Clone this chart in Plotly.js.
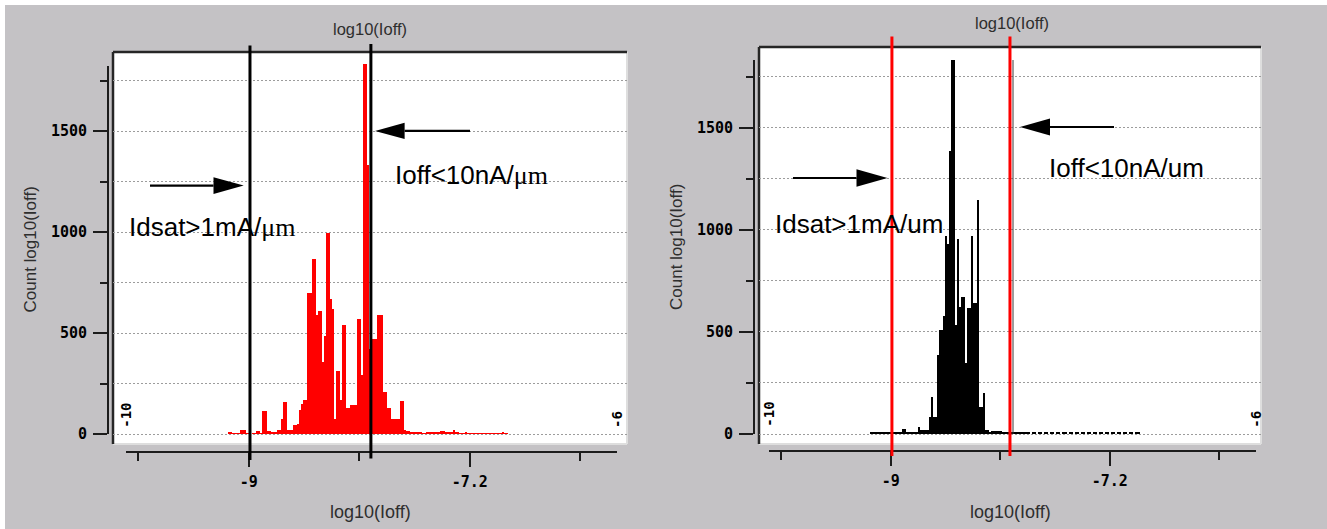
<!DOCTYPE html>
<html>
<head>
<meta charset="utf-8">
<script src="https://cdn.plot.ly/plotly-3.0.1.min.js"></script>
<style>
html,body{margin:0;padding:0;background:#c4c2c5;}
#chart{width:1327px;height:529px;}
</style>
</head>
<body>
<div id="chart"></div>
<script>
// ------------------------- DATA -------------------------
const binWidth = 1 / 60;                 // log10(Ioff) bin width
const leftBinStart = -9.1715;            // first bin edge, left histogram
const leftCounts = [
  10, 8, 3, 3, 3, 3, 20, 20, 18, 3,
  3, 2, 3, 5, 13, 13, 4, 116, 116, 16,
  14, 8, 8, 8, 20, 20, 73, 156, 156, 20,
  20, 22, 46, 46, 48, 119, 147, 169, 169, 696,
  696, 868, 868, 591, 609, 609, 355, 484, 997, 997,
  669, 620, 73, 313, 313, 169, 540, 540, 128, 128,
  144, 144, 144, 567, 567, 293, 1833, 1833, 1331, 421,
  470, 470, 470, 589, 589, 589, 210, 210, 127, 127,
  73, 73, 73, 73, 164, 164, 18, 15, 15, 12,
  10, 8, 8, 10, 8, 6, 6, 8, 10, 12,
  12, 10, 8, 8, 15, 15, 8, 8, 8, 8,
  18, 8, 8, 6, 6, 6, 8, 6, 6, 6,
  5, 6, 6, 5, 5, 6, 5, 5, 5, 6,
  5, 5, 4, 5, 8, 5, 4
];
const rightBinStart = -9.172;            // first bin edge, right histogram
const rightCounts = [
  8, 8, 8, 8, 8, 8, 8, 8, 8, 8,
  8, 8, 8, 8, 8, 8, 25, 25, 8, 8,
  8, 8, 8, 8, 35, 20, 20, 20, 20, 85,
  183, 85, 85, 387, 510, 510, 578, 970, 931, 1384,
  1830, 1830, 534, 956, 624, 673, 673, 350, 616, 616,
  972, 640, 640, 1147, 134, 134, 203, 20, 20, 8,
  16, 16, 16, 16, 16, 8, 8, 8, 8, 8,
  8, 8, 8, 8, 8, 8, 8, 8, 8, 0,
  8, 8, 0, 8, 8, 0, 8, 8, 0, 8, 8, 0, 8, 8, 0, 8, 8, 0,
  8, 8, 0, 8, 8, 0, 8, 8, 0, 8, 8, 0, 8, 8, 0, 8, 8, 0,
  8, 8, 0, 8, 8, 0, 8, 8, 0, 8, 8, 0, 8, 8, 0, 8, 8, 0
];
const xRange = [-10, -6];
const rangeEndLabels = ['-10', '-6'];
const xMajorTicks = [-9, -7.2];
const xMajorLabels = ['-9', '-7.2'];
const xMinorTicks = [-9.9, -8.1, -6.3];
const yMajorTicks = [0, 500, 1000, 1500];
const yMinorTicks = [250, 750, 1250, 1750];
const leftThresholds = [-8.99, -8.005];
const rightThresholds = [-8.99, -8.02];
const rightUnderLine = [-7.995];
const axisTitle = 'log10(Ioff)';
const yTitle = 'Count log10(Ioff)';
const MU = '<span style="font-family:Liberation Serif">μm</span>';
const leftTexts = ['Idsat&gt;1mA/' + MU, 'Ioff&lt;10nA/' + MU];
const rightTexts = ['Idsat&gt;1mA/um', 'Ioff&lt;10nA/um'];

// ------------------------- GEOMETRY (pixels) -------------------------
const W = 1327, H = 529;
const fx = x => x / W, fy = y => 1 - y / H;

const panels = [
  { s: '', d: '3', box: [113, 52, 627, 444], ax0: 126, ax1: 617, zeroY: 434, pxc: 0.202,
    yLineX: 108, yLineTop: 66, xLineY: 452,
    counts: leftCounts, start: leftBinStart, color: '#ff0000',
    thr: leftThresholds, thrColor: '#000000', thrTop: [45.5, 44], thrBot: [460, 458.5],
    texts: leftTexts, textPos: [[127, 227], [393, 175.5]],
    arrows: [[150, 243.7, 213.5, 185.6, 8.4], [470, 375, 404.6, 130.9, 8.1]],
    topTitle: [370.5, 28.7], botTitle: [370.5, 511.5], yTitlePos: [30, 249.5],
    endLabelY: [415.8, 420] },
  { s: '2', d: '4', box: [759, 47, 1261, 444], ax0: 769, ax1: 1255.8, zeroY: 434, pxc: 0.2042,
    yLineX: 754, yLineTop: 60, xLineY: 451,
    counts: rightCounts, start: rightBinStart, color: '#000000',
    thr: rightThresholds, thrColor: '#ff0000', thrTop: [36.4, 36.4], thrBot: [456, 456],
    texts: rightTexts, textPos: [[773, 224.4], [1047, 168]],
    arrows: [[793, 887.5, 856.5, 178, 8.7], [1114, 1020, 1050, 127, 8.5]],
    topTitle: [1011.5, 22.9], botTitle: [1010.5, 511.5], yTitlePos: [676, 247],
    endLabelY: [414.7, 419] }
];

const data = [];
const shapes = [];
const annotations = [];
const layout = {
  width: W, height: H, autosize: false,
  margin: { l: 0, r: 0, t: 0, b: 0, pad: 0 },
  paper_bgcolor: '#c4c2c5', plot_bgcolor: 'rgba(0,0,0,0)',
  showlegend: false, bargap: 0,
  font: { family: 'Liberation Sans, Arial, sans-serif', color: '#000' }
};

// white strips at top / left edge of the picture
shapes.push({ type: 'rect', xref: 'paper', yref: 'paper', x0: 0, x1: 1, y0: fy(5), y1: 1,
  fillcolor: '#ffffff', line: { width: 0 }, layer: 'below' });
shapes.push({ type: 'rect', xref: 'paper', yref: 'paper', x0: 0, x1: fx(5), y0: 0, y1: 1,
  fillcolor: '#ffffff', line: { width: 0 }, layer: 'below' });

const tickFont = { family: 'DejaVu Sans Mono, monospace', size: 15, weight: 'bold', color: '#000' };
const titleFont = { family: 'Liberation Sans, Arial, sans-serif', size: 18, color: '#2e2e2e' };
const AX = '#1c1c1c';

panels.forEach(p => {
  const [bl, bt, br, bb] = p.box;
  const ppu = (p.ax1 - p.ax0) / (xRange[1] - xRange[0]);
  const xs = 'x' + p.s, ys = 'y' + p.s, xd = 'x' + p.d, yd = 'y' + p.d;

  // data axes = white box
  layout['xaxis' + p.s] = {
    domain: [fx(bl), fx(br)],
    range: [xRange[0] - (p.ax0 - bl) / ppu, xRange[1] + (br - p.ax1) / ppu],
    anchor: ys, showline: false, showgrid: false, zeroline: false,
    ticks: '', showticklabels: false, fixedrange: true
  };
  layout['yaxis' + p.s] = {
    domain: [fy(bb), fy(bt)],
    range: [-(bb - p.zeroY) / p.pxc, (p.zeroY - bt) / p.pxc],
    anchor: xs, showline: false, zeroline: false, ticks: '', showticklabels: false,
    showgrid: true, tick0: 0, dtick: 250, gridcolor: '#9c9c9c', gridwidth: 1, griddash: '2px,2px',
    fixedrange: true
  };
  // decorative axes (detached axis lines with ticks)
  layout['xaxis' + p.d] = {
    domain: [fx(p.ax0), fx(p.ax1)], range: xRange.slice(),
    anchor: 'free', position: fy(p.xLineY),
    showline: true, linecolor: AX, linewidth: 2, showgrid: false, zeroline: false,
    tickmode: 'array', tickvals: xMajorTicks, ticktext: xMajorLabels,
    ticks: 'outside', ticklen: 14, tickwidth: 2, tickcolor: AX,
    minor: { tickmode: 'array', tickvals: xMinorTicks, ticks: 'outside', ticklen: 8, tickwidth: 2, tickcolor: AX, showgrid: false },
    tickfont: tickFont, ticklabelstandoff: 2, fixedrange: true
  };
  layout['yaxis' + p.d] = {
    domain: [fy(p.zeroY), fy(p.yLineTop)], range: [0, (p.zeroY - p.yLineTop) / p.pxc],
    anchor: 'free', position: fx(p.yLineX), side: 'left',
    showline: true, linecolor: AX, linewidth: 2, showgrid: false, zeroline: false,
    tickmode: 'array', tickvals: yMajorTicks,
    ticks: 'outside', ticklen: 14, tickwidth: 2, tickcolor: AX,
    minor: { tickmode: 'array', tickvals: yMinorTicks, ticks: 'outside', ticklen: 7, tickwidth: 2, tickcolor: AX, showgrid: false },
    tickfont: tickFont, ticklabelstandoff: 3, fixedrange: true
  };

  // histogram
  data.push({
    type: 'bar', xaxis: xs, yaxis: ys,
    x0: p.start + binWidth / 2, dx: binWidth, y: p.counts, width: binWidth,
    marker: { color: p.color, line: { width: 0 } }, hoverinfo: 'skip'
  });
  // empty trace so decorative subplot is drawn
  data.push({ type: 'scatter', mode: 'markers', x: [], y: [], xaxis: xd, yaxis: yd, hoverinfo: 'skip' });

  // white box with bevelled border
  shapes.push({ type: 'rect', xref: 'paper', yref: 'paper', x0: fx(bl), x1: fx(br), y0: fy(bb), y1: fy(bt),
    fillcolor: '#ffffff', line: { width: 0 }, layer: 'below' });
  shapes.push({ type: 'line', xref: 'paper', yref: 'paper', x0: fx(br), x1: fx(br), y0: fy(bb), y1: fy(bt),
    line: { color: '#dedede', width: 2 }, layer: 'below' });
  shapes.push({ type: 'line', xref: 'paper', yref: 'paper', x0: fx(bl), x1: fx(br), y0: fy(bb), y1: fy(bb),
    line: { color: '#dedede', width: 2 }, layer: 'below' });
  shapes.push({ type: 'line', xref: 'paper', yref: 'paper', x0: fx(bl), x1: fx(br), y0: fy(bt), y1: fy(bt),
    line: { color: '#262626', width: 2.5 }, layer: 'below' });
  shapes.push({ type: 'line', xref: 'paper', yref: 'paper', x0: fx(bl), x1: fx(bl), y0: fy(bb), y1: fy(bt),
    line: { color: '#262626', width: 2.5 }, layer: 'below' });

  // threshold lines
  p.thr.forEach((t, i) => {
    shapes.push({ type: 'line', xref: xs, yref: 'paper', x0: t, x1: t, y0: fy(p.thrBot[i]), y1: fy(p.thrTop[i]),
      line: { color: p.thrColor, width: 3 }, layer: 'above' });
  });

  // arrows: [tailX, tipX, headBaseX, y, halfHeight]
  p.arrows.forEach(a => {
    const [tx, hx, bx, y, hh] = a;
    shapes.push({ type: 'line', xref: 'paper', yref: 'paper', x0: fx(tx), x1: fx(bx), y0: fy(y), y1: fy(y),
      line: { color: '#000', width: 2.2 }, layer: 'above' });
    shapes.push({ type: 'path', xref: 'paper', yref: 'paper',
      path: `M ${fx(hx)},${fy(y)} L ${fx(bx)},${fy(y - hh)} L ${fx(bx)},${fy(y + hh)} Z`,
      fillcolor: '#000', line: { width: 0 }, layer: 'above' });
  });

  // big annotation texts
  p.texts.forEach((t, i) => {
    annotations.push({ xref: 'paper', yref: 'paper', x: fx(p.textPos[i][0]), y: fy(p.textPos[i][1]),
      xanchor: 'left', yanchor: 'middle', showarrow: false, text: t,
      font: { family: 'Liberation Sans, Arial, sans-serif', size: 26, color: '#000' } });
  });

  // titles
  annotations.push({ xref: 'paper', yref: 'paper', x: fx(p.topTitle[0]), y: fy(p.topTitle[1]),
    xanchor: 'center', yanchor: 'middle', showarrow: false, text: axisTitle,
    font: Object.assign({}, titleFont, { size: 16.5 }) });
  annotations.push({ xref: 'paper', yref: 'paper', x: fx(p.botTitle[0]), y: fy(p.botTitle[1]),
    xanchor: 'center', yanchor: 'middle', showarrow: false, text: axisTitle, font: titleFont });
  annotations.push({ xref: 'paper', yref: 'paper', x: fx(p.yTitlePos[0]), y: fy(p.yTitlePos[1]),
    xanchor: 'center', yanchor: 'middle', showarrow: false, text: yTitle, textangle: -90,
    font: Object.assign({}, titleFont, { size: 17 }) });

  // range end labels (rotated)
  rangeEndLabels.forEach((lab, i) => {
    annotations.push({ xref: xd, yref: 'paper', x: xRange[i], y: fy(p.endLabelY[i]),
      xanchor: 'center', yanchor: 'middle', showarrow: false, text: lab, textangle: -90,
      font: { family: 'DejaVu Sans Mono, monospace', size: 14, weight: 'bold', color: '#000' } });
  });
});

// thin dark line under the second red threshold (right panel)
rightUnderLine.forEach(v => {
  shapes.push({ type: 'line', xref: 'x2', yref: 'paper', x0: v, x1: v, y0: fy(434), y1: fy(60),
    line: { color: '#3a3a3a', width: 1 }, layer: 'above' });
});

layout.shapes = shapes;
layout.annotations = annotations;

Plotly.newPlot('chart', data, layout, { staticPlot: true, displayModeBar: false });
</script>
</body>
</html>
